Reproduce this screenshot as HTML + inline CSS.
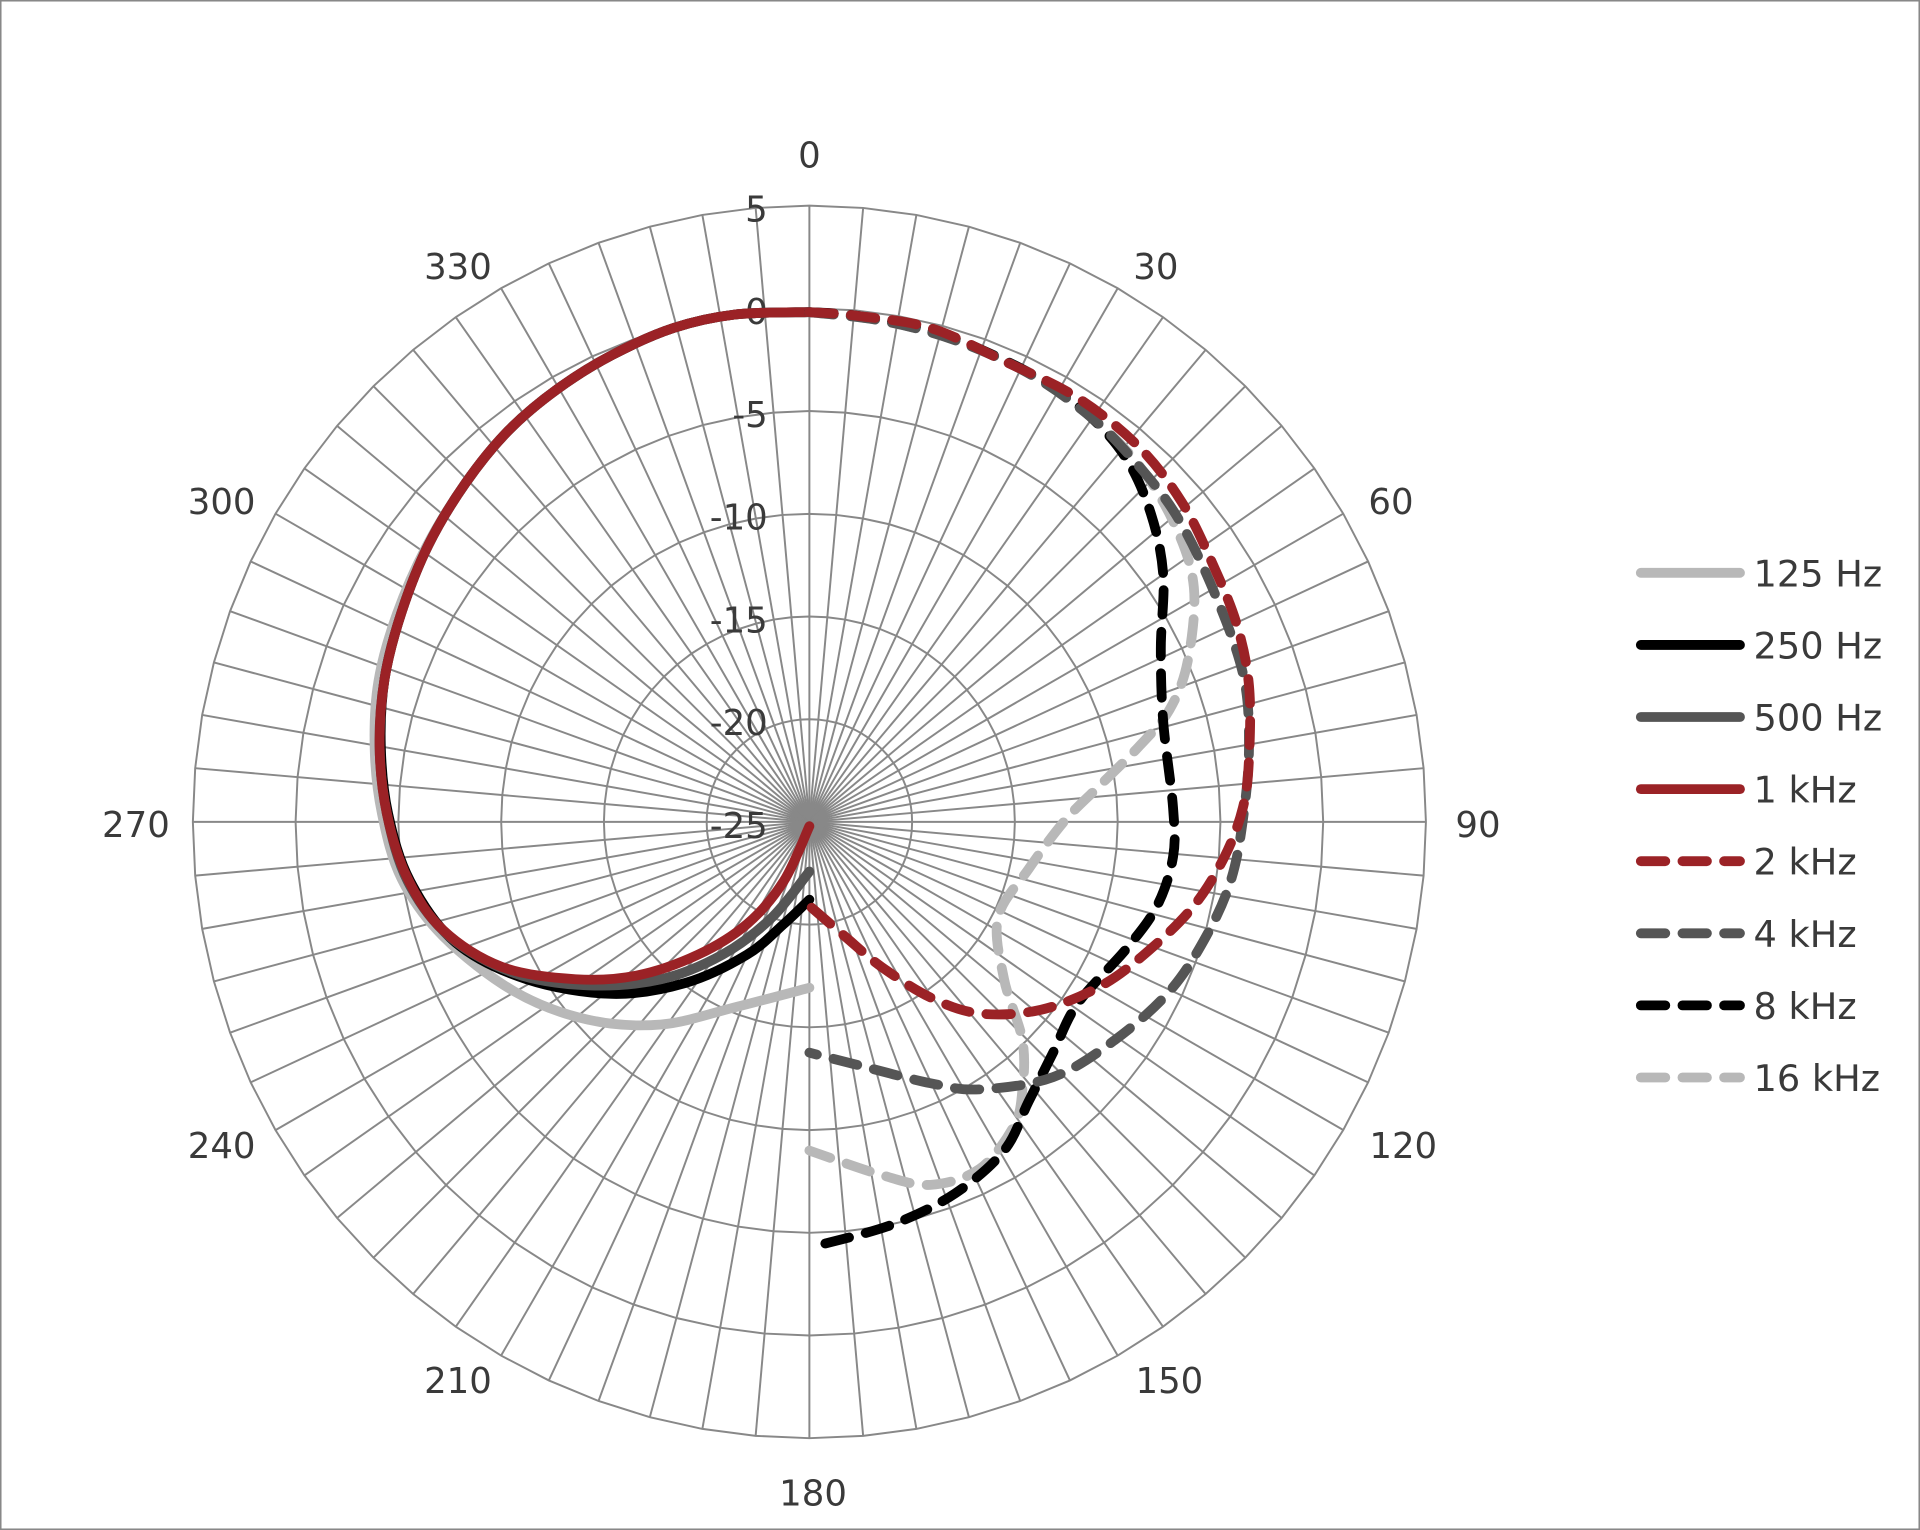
<!DOCTYPE html>
<html><head><meta charset="utf-8"><style>
html,body{margin:0;padding:0;background:#fff;}
svg{display:block;}
text{font-family:"DejaVu Sans","Liberation Sans",sans-serif;fill:#3a3a3a;}
</style></head><body>
<svg id="s" width="1920" height="1530" viewBox="0 0 1568 1250" preserveAspectRatio="none" xmlns="http://www.w3.org/2000/svg">
<rect x="0.5" y="0.5" width="1567" height="1249" fill="#fff" stroke="#888" stroke-width="1.5"/>
<g id="grid" stroke="#888" stroke-width="1.6" fill="none"></g>
<g id="lbl" font-size="29"></g>
<g id="solid" fill="none" stroke-linecap="round" stroke-linejoin="round" stroke-width="8">
<polyline stroke="#b8b8b8" points="661,255 600,257 550,268 500,290 455,318 415,352 380,395 348,447 324,502 309,557 306,612 312,665 328,718 362,765 420,810 480,833 540,837 600,823 661,807"/>
<polyline stroke="#000" points="661,255 600,257 550,268 500,290 455,318 415,352 380,395 350,445 328,500 314,555 311,610 317,665 335,720 372,770 430,800 500,812 560,803 610,780 640,755 661,735"/>
<polyline stroke="#555" points="661,255 600,257 550,268 500,290 455,318 415,352 380,395 350,445 328,500 314,555 310,610 316,665 333,720 367,765 420,795 480,805 540,800 590,780 630,750 661,712"/>
<polyline stroke="#9b2226" points="661,255 600,257 550,268 500,290 455,318 415,352 380,395 350,445 328,500 314,555 310,610 316,665 333,718 362,760 410,790 470,800 520,797 570,780 610,755 640,720 661,675"/>
</g>
<g id="dash" fill="none" stroke-linecap="round" stroke-linejoin="round" stroke-width="8" stroke-dasharray="20 14">
<polyline stroke="#b8b8b8" points="661,255 720,262 780,278 840,305 890,340 930,380 960,430 975,480 970,540 955,580 930,610 900,640 870,670 840,710 815,750 820,800 835,850 835,890 828,920 800,955 760,968 720,960 661,940"/>
<polyline stroke="#000" points="661,255 700,258 760,270 800,285 850,310 890,340 920,375 940,420 950,470 948,530 950,590 958,660 958,700 945,740 920,775 880,820 860,860 840,900 820,940 780,975 730,1000 670,1017"/>
<polyline stroke="#555" points="661,255 720,262 780,278 840,305 890,340 925,375 960,420 990,480 1015,550 1020,610 1015,670 1005,720 985,765 955,810 910,850 860,880 800,890 760,885 700,870 661,860"/>
<polyline stroke="#9b2226" points="661,255 700,258 760,268 820,295 880,325 930,365 965,410 990,460 1010,510 1020,560 1020,620 1015,660 1000,700 975,740 940,775 900,805 850,825 800,828 760,815 720,790 690,765 661,740"/>
</g>
<g id="leg" font-size="30"></g>
</svg>
<script>
var NS="http://www.w3.org/2000/svg",cx=661,cy=671.5,R=503.5;
function el(p,t,a,txt){var e=document.createElementNS(NS,t);for(var k in a)e.setAttribute(k,a[k]);if(txt!=null)e.textContent=txt;p.appendChild(e);return e;}
var g=document.getElementById('grid'),l=document.getElementById('lbl');
for(var i=1;i<=6;i++){var r=R*i/6,pts=[];for(var a=0;a<72;a++){var t=a*5*Math.PI/180;pts.push((cx+r*Math.sin(t)).toFixed(1)+','+(cy-r*Math.cos(t)).toFixed(1));}el(g,'polygon',{points:pts.join(' ')});}
for(var a=0;a<72;a++){var t=a*5*Math.PI/180;el(g,'line',{x1:cx,y1:cy,x2:(cx+R*Math.sin(t)).toFixed(1),y2:(cy-R*Math.cos(t)).toFixed(1)});}
var vals=['-25','-20','-15','-10','-5','0','5'];
for(var i=0;i<7;i++)el(l,'text',{x:627,y:cy-R*i/6+13,'text-anchor':'end'},vals[i]);
var AL=[[0,661,137],[30,944,228],[60,1136,420],[90,1207,684],[120,1146,946],[150,955,1138],[180,664,1230],[210,374,1138],[240,181,946],[270,111,684],[300,181,420],[330,374,228]];
AL.forEach(function(q){el(l,'text',{x:q[1],y:q[2],'text-anchor':'middle'},String(q[0]));});
document.querySelectorAll('#solid polyline,#dash polyline').forEach(function(pl){
 var p=pl.getAttribute('points').trim().split(/\s+/).map(function(s){return s.split(',').map(Number);});
 var d='M'+p[0][0]+','+p[0][1];
 for(var i=0;i<p.length-1;i++){var p0=p[i-1]||p[i],p1=p[i],p2=p[i+1],p3=p[i+2]||p2;
  d+=' C'+(p1[0]+(p2[0]-p0[0])/6).toFixed(1)+','+(p1[1]+(p2[1]-p0[1])/6).toFixed(1)+' '+(p2[0]-(p3[0]-p1[0])/6).toFixed(1)+','+(p2[1]-(p3[1]-p1[1])/6).toFixed(1)+' '+p2[0]+','+p2[1];}
 var path=el(pl.parentNode,'path',{d:d,stroke:pl.getAttribute('stroke')});pl.parentNode.insertBefore(path,pl);pl.remove();
});
var lg=document.getElementById('leg');
var S=[['125 Hz','#b8b8b8',0],['250 Hz','#000',0],['500 Hz','#555',0],['1 kHz','#9b2226',0],['2 kHz','#9b2226',1],['4 kHz','#555',1],['8 kHz','#000',1],['16 kHz','#b8b8b8',1]];
for(var i=0;i<8;i++){var y=468+i*58.9;var o={x1:1340,x2:1421,y1:y,y2:y,stroke:S[i][1],'stroke-width':8,'stroke-linecap':'round'};if(S[i][2])o['stroke-dasharray']='20 14';el(lg,'line',o);el(lg,'text',{x:1432,y:y+11},S[i][0]);}
</script>
</body></html>
